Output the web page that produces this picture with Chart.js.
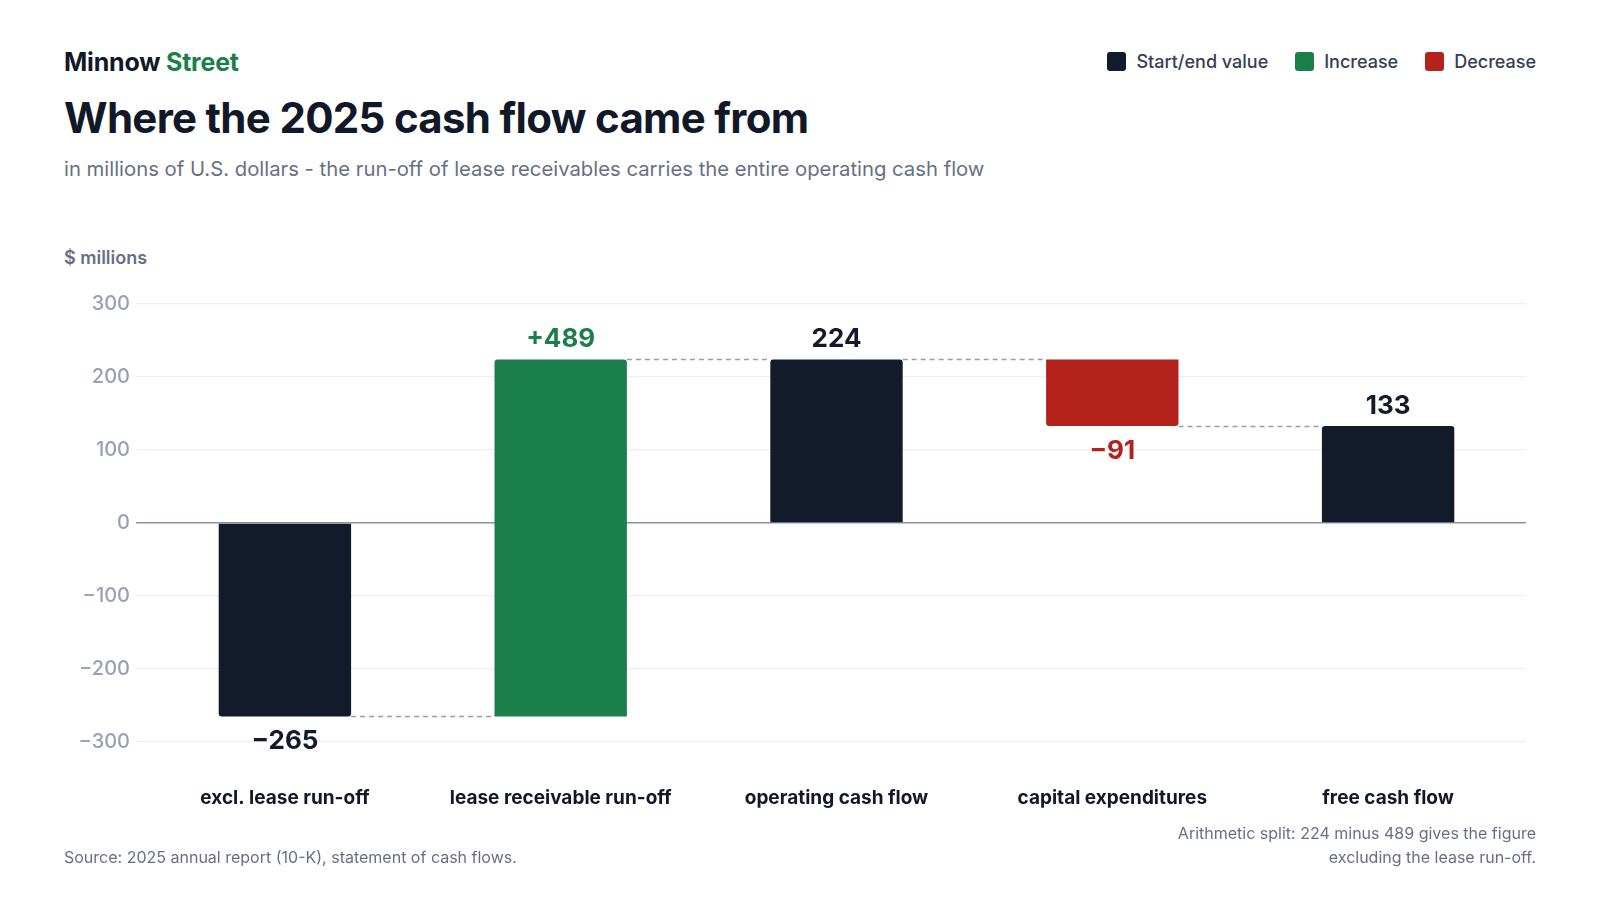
<!DOCTYPE html>
<html>
<head>
<meta charset="utf-8">
<script src="https://cdn.jsdelivr.net/npm/chart.js@4/dist/chart.umd.min.js"></script>
<style>
  html, body { margin: 0; padding: 0; background: #fff; }
  body { width: 1600px; height: 900px; position: relative; overflow: hidden; font-family: Inter, "Noto Sans", sans-serif; }
  .abs { position: absolute; white-space: nowrap; }
  #brand { left: 64px; top: 47px; font-size: 25px; font-weight: 700; color: #111827; letter-spacing: -0.2px; }
  #brand span { color: #1b7f4c; }
  #title { left: 64px; top: 92px; font-size: 42px; font-weight: 700; color: #111827; letter-spacing: -0.7px; }
  #subtitle { left: 64px; top: 156px; font-size: 20.3px; color: #667085; }
  #unit { left: 64px; top: 247px; font-size: 18px; font-weight: 600; color: #667085; }
  #legend { right: 64px; top: 51px; display: flex; gap: 27px; font-size: 18px; font-weight: 500; color: #344054; }
  #legend div { display: flex; align-items: center; gap: 10px; }
  #legend i { display: inline-block; width: 19px; height: 19px; border-radius: 3px; }
  #source { left: 64px; top: 847px; font-size: 16px; color: #667085; }
  #note { right: 64px; top: 821px; font-size: 16px; line-height: 24px; color: #667085; text-align: right; }
  #wrap { position: absolute; left: 0; top: 0; width: 1600px; height: 900px; }
</style>
</head>
<body>
<div id="brand" class="abs">Minnow <span>Street</span></div>
<div id="title" class="abs">Where the 2025 cash flow came from</div>
<div id="subtitle" class="abs">in millions of U.S. dollars - the run-off of lease receivables carries the entire operating cash flow</div>
<div id="unit" class="abs">$ millions</div>
<div id="legend" class="abs">
  <div><i style="background:#131a29"></i>Start/end value</div>
  <div><i style="background:#1b7f4c"></i>Increase</div>
  <div><i style="background:#b3231b"></i>Decrease</div>
</div>
<div id="wrap"><canvas id="waterfall"></canvas></div>
<div id="source" class="abs">Source: 2025 annual report (10-K), statement of cash flows.</div>
<div id="note" class="abs">Arithmetic split: 224 minus 489 gives the figure<br>excluding the lease run-off.</div>

<script>
const categories = ["excl. lease run-off", "lease receivable run-off", "operating cash flow", "capital expenditures", "free cash flow"]
const amounts = [-265, 489, 224, -91, 133]
const kinds = ["total", "delta", "total", "delta", "total"]
const yTicks = [-300, -200, -100, 0, 100, 200, 300]

const NAVY = "#131a29", GREEN = "#1b7f4c", RED = "#b3231b"

// build floating [start, end] ranges from the running total
let running = 0
let ranges = amounts.map((v, i) => {
    if (kinds[i] == "total") { running = v; return [0, v] }
    let r = [running, running + v]
    running += v
    return r
})
let barColors = amounts.map((v, i) => kinds[i] == "total" ? NAVY : (v >= 0 ? GREEN : RED))

function minus(n) { return n < 0 ? "\u2212" + Math.abs(n) : String(n) }
function labelText(i) {
    let v = amounts[i]
    if (kinds[i] == "delta") return v >= 0 ? "+" + v : minus(v)
    return minus(v)
}

// dashed connectors + value labels
const waterfallExtras = {
    id: "waterfallExtras",
    afterDatasetsDraw(chart) {
        const ctx = chart.ctx
        const y = chart.scales.y
        const bars = chart.getDatasetMeta(0).data
        ctx.save()
        ctx.strokeStyle = "#949db0"
        ctx.lineWidth = 1.5
        ctx.setLineDash([5, 4])
        for (let i = 0; i < bars.length - 1; i++) {
            let level = ranges[i][1]
            let py = Math.round(y.getPixelForValue(level)) + 0.5
            ctx.beginPath()
            ctx.moveTo(bars[i].x + bars[i].width / 2, py)
            ctx.lineTo(bars[i + 1].x - bars[i + 1].width / 2, py)
            ctx.stroke()
        }
        ctx.setLineDash([])
        ctx.font = "700 26px Inter, 'Noto Sans', sans-serif"
        ctx.textAlign = "center"
        ctx.textBaseline = "middle"
        bars.forEach((bar, i) => {
            let [s, e] = ranges[i]
            let up = e >= s
            let py = y.getPixelForValue(e)
            ctx.fillStyle = kinds[i] == "total" ? NAVY : barColors[i]
            ctx.fillText(labelText(i), bar.x, up ? py - 20 : py + 25)
        })
        ctx.restore()
    }
}

new Chart(document.getElementById("waterfall"), {
    type: "bar",
    data: {
        labels: categories,
        datasets: [{
            data: ranges,
            backgroundColor: barColors,
            borderSkipped: false,
            borderRadius: (c) => {
                let r = ranges[c.dataIndex]
                if (!r) return 0
                return r[1] >= r[0]
                    ? { topLeft: 3, topRight: 3, bottomLeft: 0, bottomRight: 0 }
                    : { topLeft: 0, topRight: 0, bottomLeft: 3, bottomRight: 3 }
            },
            barPercentage: 0.48,
            categoryPercentage: 1
        }]
    },
    options: {
        responsive: true,
        maintainAspectRatio: false,
        animation: false,
        layout: { padding: { left: 64, right: 74, top: 304, bottom: 88 } },
        plugins: { legend: { display: false }, tooltip: { enabled: false } },
        scales: {
            x: {
                grid: { display: false, drawTicks: false },
                border: { display: false },
                afterFit: (s) => { s.height = 70 },
                ticks: {
                    padding: 45,
                    color: "#111827",
                    font: { family: "Inter", size: 19, weight: "700" }
                }
            },
            y: {
                min: -300,
                max: 300,
                afterFit: (s) => { s.width = 83 },
                afterBuildTicks: (s) => { s.ticks = yTicks.map(v => ({ value: v })) },
                border: { display: false },
                grid: {
                    drawTicks: true,
                    tickLength: 11,
                    color: (c) => c.tick && c.tick.value == 0 ? "#8a93a6" : "#eceff3",
                    tickColor: (c) => c.tick && c.tick.value == 0 ? "#8a93a6" : "#eceff3",
                    lineWidth: (c) => c.tick && c.tick.value == 0 ? 1.5 : 1.2
                },
                ticks: {
                    padding: 6,
                    color: "#98a2b3",
                    font: { family: "Inter", size: 20, weight: "500" },
                    callback: (v) => minus(v)
                }
            }
        }
    },
    plugins: [waterfallExtras]
})
</script>
</body>
</html>
